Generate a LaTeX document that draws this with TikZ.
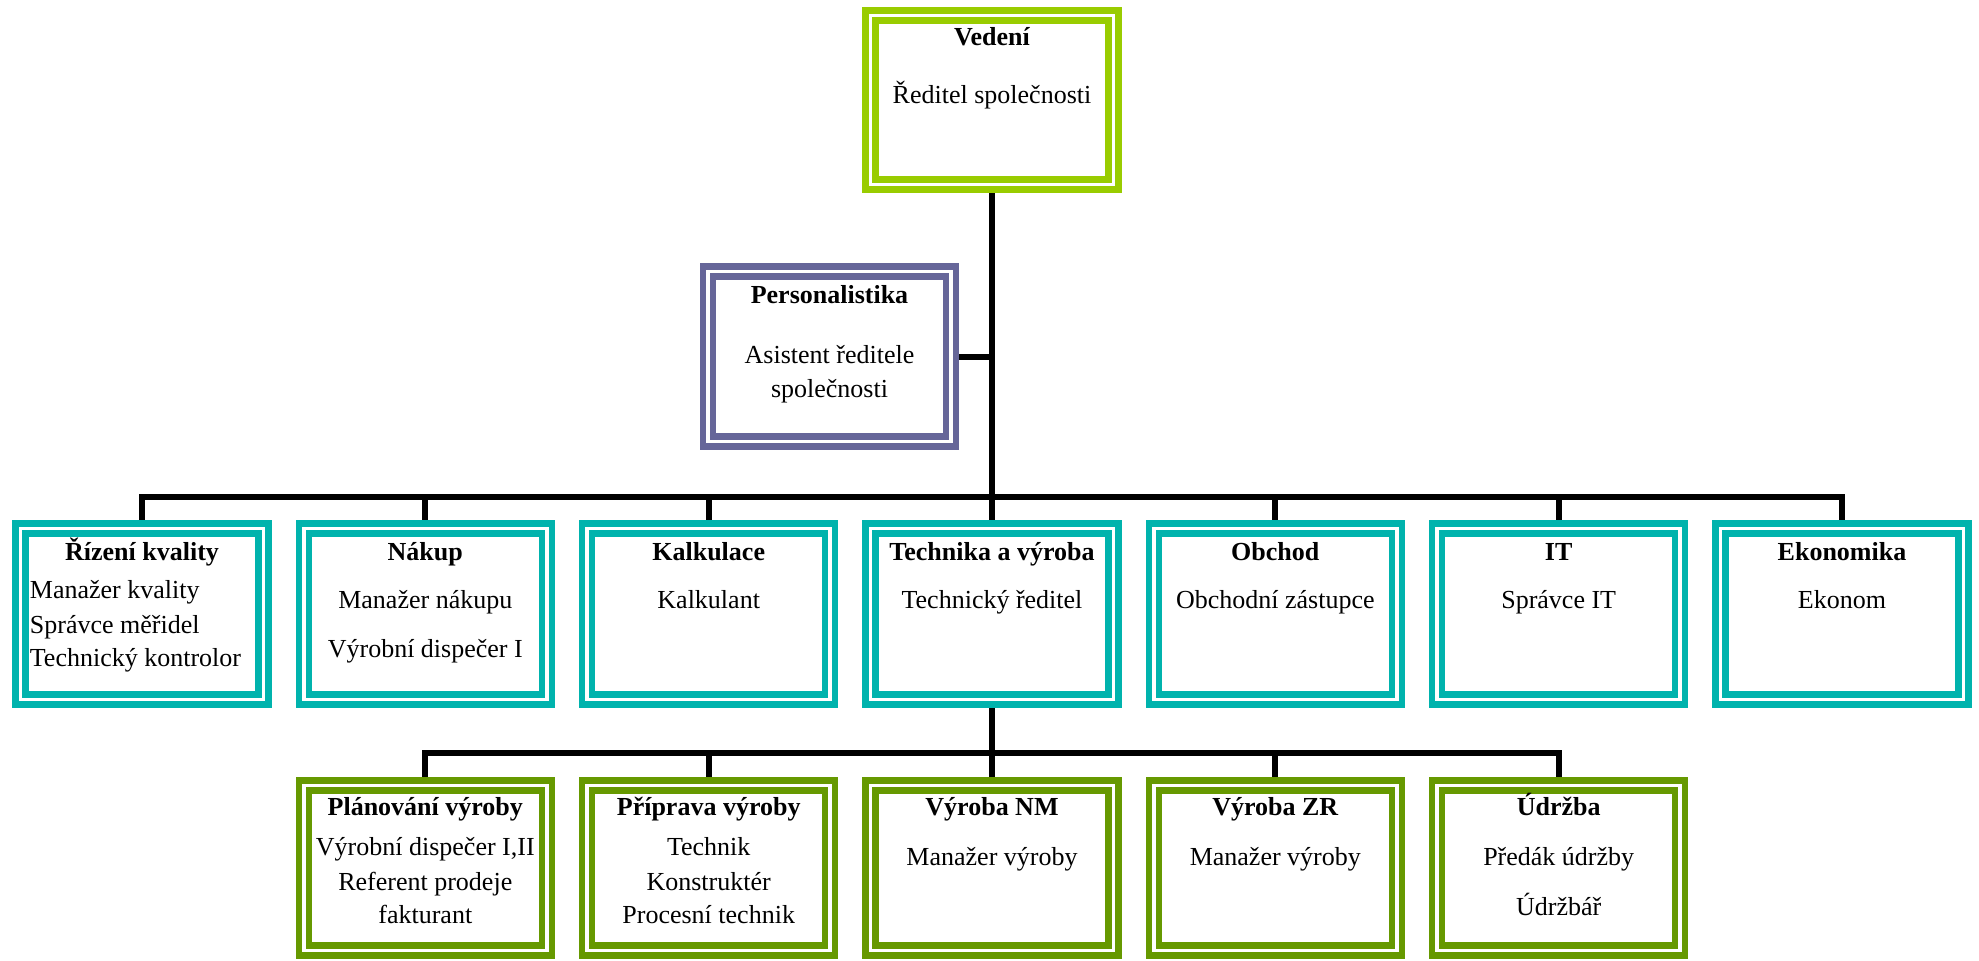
\documentclass[tikz,border=0pt]{standalone}
\usepackage{fontspec}
\setmainfont{Liberation Serif}
\usetikzlibrary{positioning,backgrounds}
\definecolor{VedC}{RGB}{153,204,0}
\definecolor{PerC}{RGB}{102,102,153}
\definecolor{OdbC}{RGB}{0,179,173}
\definecolor{VyrC}{RGB}{102,153,0}
\tikzset{
  unit/.style={rectangle,double=white,double distance=1.75pt,line width=3.25pt,
               fill=white,inner sep=0pt,outer sep=0pt,
               minimum width=121.5pt,minimum height=85.5pt},
  ved/.style={unit,draw=VedC,minimum height=84.5pt},
  per/.style={unit,draw=PerC,minimum height=85pt},
  odb/.style={unit,draw=OdbC},
  vyr/.style={unit,draw=VyrC,minimum height=82.5pt},
  head/.style={anchor=base,inner sep=0pt,font=\fontsize{13}{15.6}\selectfont\bfseries},
  role/.style={anchor=base,inner sep=0pt,font=\fontsize{13}{15.6}\selectfont},
  link/.style={line width=3pt,black},
}
\begin{document}
\begin{tikzpicture}[x=0.5pt,y=-0.5pt]
  \useasboundingbox (0,0) rectangle (1979,960);
  % vedeni a asistent
  \node[ved] (ved) at (992,100) {};
  \node[per] (per) at (829.5,356.5) {};
  % odbory
  \node[odb] (riz) at (142,614) {};
  \node[odb] (nak) at (425.3,614) {};
  \node[odb] (kal) at (708.7,614) {};
  \node[odb] (tech) at (992,614) {};
  \node[odb] (obch) at (1275.3,614) {};
  \node[odb] (it) at (1558.7,614) {};
  \node[odb] (eko) at (1842,614) {};
  % vyroba
  \node[vyr] (plan) at (425.3,868) {};
  \node[vyr] (prip) at (708.7,868) {};
  \node[vyr] (vnm) at (992,868) {};
  \node[vyr] (vzr) at (1275.3,868) {};
  \node[vyr] (udr) at (1558.7,868) {};
  % texty
  \node[head] (ved-h) at (992,45) {Vedení};
  \node[role] (ved-1) at (992,103) {Ředitel společnosti};
  \node[head] (per-h) at (829.5,303) {Personalistika};
  \node[role] (per-1) at (829.5,363) {Asistent ředitele};
  \node[role] (per-2) at (829.5,397) {společnosti};
  \node[head] (riz-h) at (142,560) {Řízení kvality};
  \node[role,anchor=base west] (riz-1) at (29.5,598) {Manažer kvality};
  \node[role,anchor=base west] (riz-2) at (29.5,633) {Správce měřidel};
  \node[role,anchor=base west] (riz-3) at (29.5,666) {Technický kontrolor};
  \node[head] (nak-h) at (425.3,560) {Nákup};
  \node[role] (nak-1) at (425.3,608) {Manažer nákupu};
  \node[role] (nak-2) at (425.3,657) {Výrobní dispečer I};
  \node[head] (kal-h) at (708.7,560) {Kalkulace};
  \node[role] (kal-1) at (708.7,608) {Kalkulant};
  \node[head] (tech-h) at (992,560) {Technika a výroba};
  \node[role] (tech-1) at (992,608) {Technický ředitel};
  \node[head] (obch-h) at (1275.3,560) {Obchod};
  \node[role] (obch-1) at (1275.3,608) {Obchodní zástupce};
  \node[head] (it-h) at (1558.7,560) {IT};
  \node[role] (it-1) at (1558.7,608) {Správce IT};
  \node[head] (eko-h) at (1842,560) {Ekonomika};
  \node[role] (eko-1) at (1842,608) {Ekonom};
  \node[head] (plan-h) at (425.3,815) {Plánování výroby};
  \node[role] (plan-1) at (425.3,855) {Výrobní dispečer I,II};
  \node[role] (plan-2) at (425.3,890) {Referent prodeje};
  \node[role] (plan-3) at (425.3,923) {fakturant};
  \node[head] (prip-h) at (708.7,815) {Příprava výroby};
  \node[role] (prip-1) at (708.7,855) {Technik};
  \node[role] (prip-2) at (708.7,890) {Konstruktér};
  \node[role] (prip-3) at (708.7,923) {Procesní technik};
  \node[head] (vnm-h) at (992,815) {Výroba NM};
  \node[role] (vnm-1) at (992,865) {Manažer výroby};
  \node[head] (vzr-h) at (1275.3,815) {Výroba ZR};
  \node[role] (vzr-1) at (1275.3,865) {Manažer výroby};
  \node[head] (udr-h) at (1558.7,815) {Údržba};
  \node[role] (udr-1) at (1558.7,865) {Předák údržby};
  \node[role] (udr-2) at (1558.7,915) {Údržbář};
  % spoje
  \coordinate (bus) at (992,497);
  \coordinate (bus2) at (992,753);
  \begin{scope}[on background layer]
    \draw[link] (ved.south) -- (tech.north);
    \draw[link] (per.east) -- (per.east -| ved.south);
    \draw[link] (riz.north) |- (bus) -| (eko.north);
    \foreach \n in {nak,kal,obch,it}
      \draw[link] (\n.north) -- (\n.north |- bus);
    \draw[link] (tech.south) -- (vnm.north);
    \draw[link] (plan.north) |- (bus2) -| (udr.north);
    \foreach \n in {prip,vzr}
      \draw[link] (\n.north) -- (\n.north |- bus2);
  \end{scope}
\end{tikzpicture}
\end{document}
